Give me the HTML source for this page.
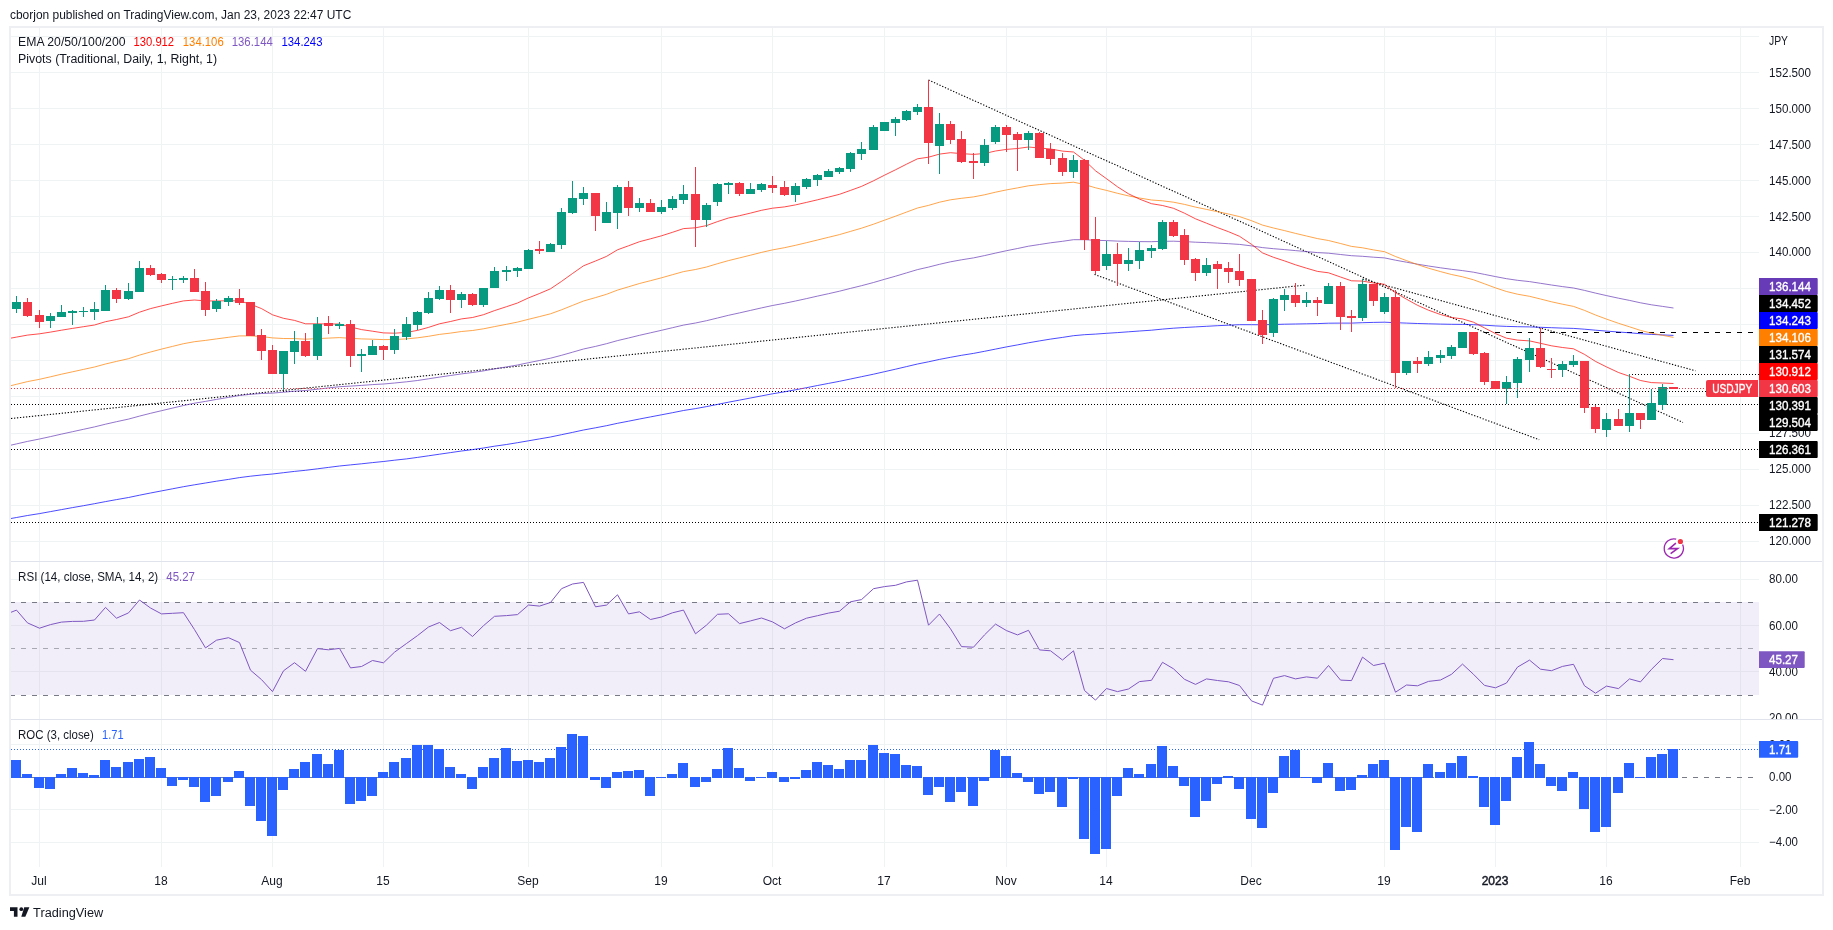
<!DOCTYPE html>
<html><head><meta charset="utf-8"><title>USDJPY chart</title><style>html,body{margin:0;padding:0;background:#fff;}#w{position:absolute;left:0;top:0;will-change:transform;}svg{display:block;}</style></head><body><div id="w">
<svg width="1833" height="930" viewBox="0 0 1833 930" font-family="'Liberation Sans', sans-serif">
<rect width="1833" height="930" fill="#fff"/>
<text x="10" y="19" font-size="12" fill="#131722" textLength="341.3" lengthAdjust="spacingAndGlyphs">cborjon published on TradingView.com, Jan 23, 2023 22:47 UTC</text>
<rect x="10" y="27" width="1813" height="868" fill="none" stroke="#edeff3" stroke-width="2"/>
<defs>
<clipPath id="cp"><rect x="11" y="28" width="1748" height="533"/></clipPath>
<clipPath id="cr"><rect x="11" y="562" width="1748" height="157"/></clipPath>
<clipPath id="co"><rect x="11" y="720" width="1748" height="147"/></clipPath>
<clipPath id="crs"><rect x="1759" y="562" width="63" height="157"/></clipPath>
<clipPath id="cps"><rect x="1759" y="28" width="63" height="533"/></clipPath>
</defs>
<rect x="39" y="28" width="1" height="839" fill="#f0f3f3"/>
<rect x="161" y="28" width="1" height="839" fill="#f0f3f3"/>
<rect x="272" y="28" width="1" height="839" fill="#f0f3f3"/>
<rect x="383" y="28" width="1" height="839" fill="#f0f3f3"/>
<rect x="528" y="28" width="1" height="839" fill="#f0f3f3"/>
<rect x="661" y="28" width="1" height="839" fill="#f0f3f3"/>
<rect x="772" y="28" width="1" height="839" fill="#f0f3f3"/>
<rect x="884" y="28" width="1" height="839" fill="#f0f3f3"/>
<rect x="1006" y="28" width="1" height="839" fill="#f0f3f3"/>
<rect x="1106" y="28" width="1" height="839" fill="#f0f3f3"/>
<rect x="1251" y="28" width="1" height="839" fill="#f0f3f3"/>
<rect x="1384" y="28" width="1" height="839" fill="#f0f3f3"/>
<rect x="1495" y="28" width="1" height="839" fill="#f0f3f3"/>
<rect x="1606" y="28" width="1" height="839" fill="#f0f3f3"/>
<rect x="1740" y="28" width="1" height="839" fill="#f0f3f3"/>
<rect x="11" y="36" width="1748" height="1" fill="#f0f3f3"/>
<rect x="11" y="72" width="1748" height="1" fill="#f0f3f3"/>
<rect x="11" y="108" width="1748" height="1" fill="#f0f3f3"/>
<rect x="11" y="144" width="1748" height="1" fill="#f0f3f3"/>
<rect x="11" y="180" width="1748" height="1" fill="#f0f3f3"/>
<rect x="11" y="216" width="1748" height="1" fill="#f0f3f3"/>
<rect x="11" y="252" width="1748" height="1" fill="#f0f3f3"/>
<rect x="11" y="288" width="1748" height="1" fill="#f0f3f3"/>
<rect x="11" y="324" width="1748" height="1" fill="#f0f3f3"/>
<rect x="11" y="360" width="1748" height="1" fill="#f0f3f3"/>
<rect x="11" y="396" width="1748" height="1" fill="#f0f3f3"/>
<rect x="11" y="433" width="1748" height="1" fill="#f0f3f3"/>
<rect x="11" y="469" width="1748" height="1" fill="#f0f3f3"/>
<rect x="11" y="505" width="1748" height="1" fill="#f0f3f3"/>
<rect x="11" y="541" width="1748" height="1" fill="#f0f3f3"/>
<rect x="11" y="579" width="1748" height="1" fill="#f0f3f3"/>
<rect x="11" y="625" width="1748" height="1" fill="#f0f3f3"/>
<rect x="11" y="671" width="1748" height="1" fill="#f0f3f3"/>
<rect x="11" y="744" width="1748" height="1" fill="#f0f3f3"/>
<rect x="11" y="809" width="1748" height="1" fill="#f0f3f3"/>
<rect x="11" y="842" width="1748" height="1" fill="#f0f3f3"/>
<rect x="11" y="561" width="1811" height="1" fill="#e0e3eb"/>
<rect x="11" y="719" width="1811" height="1" fill="#e0e3eb"/>
<g clip-path="url(#cp)">
<line x1="11" y1="404.5" x2="1759" y2="404.5" stroke="#000" stroke-width="1" stroke-dasharray="1 2" stroke-dashoffset="0"/>
<line x1="11" y1="449.5" x2="1759" y2="449.5" stroke="#000" stroke-width="1" stroke-dasharray="1 2" stroke-dashoffset="0"/>
<line x1="11" y1="522.5" x2="1759" y2="522.5" stroke="#000" stroke-width="1" stroke-dasharray="1 2" stroke-dashoffset="0"/>
<line x1="283" y1="391.5" x2="1759" y2="391.5" stroke="#000" stroke-width="1" stroke-dasharray="1 2" stroke-dashoffset="0"/>
<line x1="1629" y1="374.5" x2="1759" y2="374.5" stroke="#000" stroke-width="1" stroke-dasharray="1 2" stroke-dashoffset="0"/>
<line x1="1484" y1="332.5" x2="1759" y2="332.5" stroke="#000" stroke-width="1" stroke-dasharray="5 6"/>
<line x1="928.5" y1="80" x2="1683" y2="422.5" stroke="#000" stroke-width="1.1" stroke-dasharray="1.3 1.7"/>
<line x1="1362.5" y1="279" x2="1695.5" y2="370.8" stroke="#000" stroke-width="1.1" stroke-dasharray="1.3 1.7"/>
<line x1="1094.5" y1="274.4" x2="1539.2" y2="439.7" stroke="#000" stroke-width="1.1" stroke-dasharray="1.3 1.7"/>
<line x1="11" y1="418.5" x2="1306.2" y2="285" stroke="#000" stroke-width="1.1" stroke-dasharray="1.3 1.7"/>
<polyline points="5.5,519.5 16.5,517.5 27.5,515.5 39.5,513.6 50.5,511.6 61.5,509.6 72.5,507.6 83.5,505.7 94.5,503.7 105.5,501.6 116.5,499.6 128.5,497.5 139.5,495.2 150.5,493.0 161.5,490.9 172.5,488.8 183.5,486.7 194.5,484.8 205.5,483.0 216.5,481.2 228.5,479.4 239.5,477.6 250.5,476.2 261.5,475.0 272.5,474.0 283.5,472.7 294.5,471.4 305.5,470.3 317.5,468.8 328.5,467.4 339.5,466.0 350.5,464.9 361.5,463.8 372.5,462.6 383.5,461.5 394.5,460.2 406.5,458.9 417.5,457.4 428.5,455.8 439.5,454.2 450.5,452.6 461.5,451.0 472.5,449.6 483.5,448.0 494.5,446.2 506.5,444.5 517.5,442.7 528.5,440.8 539.5,438.9 550.5,437.0 561.5,434.7 572.5,432.4 583.5,430.0 595.5,427.8 606.5,425.7 617.5,423.3 628.5,421.2 639.5,419.0 650.5,416.9 661.5,414.8 672.5,412.7 683.5,410.5 695.5,408.6 706.5,406.6 717.5,404.4 728.5,402.2 739.5,400.1 750.5,398.0 761.5,395.9 772.5,393.8 784.5,391.8 795.5,389.8 806.5,387.7 817.5,385.5 828.5,383.4 839.5,381.3 850.5,379.0 861.5,376.7 873.5,374.2 884.5,371.7 895.5,369.2 906.5,366.6 917.5,364.0 928.5,361.8 939.5,359.4 950.5,357.3 961.5,355.3 973.5,353.4 984.5,351.3 995.5,349.1 1006.5,346.9 1017.5,344.9 1028.5,342.8 1039.5,340.9 1050.5,339.1 1062.5,337.4 1073.5,335.7 1084.5,334.7 1095.5,334.1 1106.5,333.3 1117.5,332.6 1128.5,331.8 1139.5,331.0 1151.5,330.2 1162.5,329.1 1173.5,328.2 1184.5,327.5 1195.5,326.9 1206.5,326.3 1217.5,325.7 1228.5,325.2 1239.5,324.7 1251.5,324.7 1262.5,324.8 1273.5,324.5 1284.5,324.2 1295.5,324.0 1306.5,323.8 1317.5,323.6 1328.5,323.2 1340.5,323.1 1351.5,323.1 1362.5,322.7 1373.5,322.4 1384.5,322.2 1395.5,322.7 1406.5,323.1 1417.5,323.5 1428.5,323.8 1440.5,324.1 1451.5,324.3 1462.5,324.4 1473.5,324.7 1484.5,325.2 1495.5,325.9 1506.5,326.4 1517.5,326.7 1529.5,326.9 1540.5,327.3 1551.5,327.7 1562.5,328.1 1573.5,328.4 1584.5,329.2 1595.5,330.2 1606.5,331.1 1618.5,332.0 1629.5,332.8 1640.5,333.7 1651.5,334.4 1662.5,334.9 1673.5,335.4" fill="none" stroke="#0000ff" stroke-width="1" stroke-linejoin="round" stroke-opacity="0.7"/>
<polyline points="5.5,446.4 16.5,443.9 27.5,441.4 39.5,439.0 50.5,436.6 61.5,434.1 72.5,431.7 83.5,429.3 94.5,426.9 105.5,424.2 116.5,421.7 128.5,419.1 139.5,416.1 150.5,413.3 161.5,410.7 172.5,408.1 183.5,405.5 194.5,403.2 205.5,401.4 216.5,399.4 228.5,397.4 239.5,395.5 250.5,394.3 261.5,393.5 272.5,393.1 283.5,392.2 294.5,391.2 305.5,390.5 317.5,389.2 328.5,387.9 339.5,386.7 350.5,386.1 361.5,385.4 372.5,384.6 383.5,384.0 394.5,383.0 406.5,381.8 417.5,380.5 428.5,378.8 439.5,377.1 450.5,375.5 461.5,373.9 472.5,372.5 483.5,370.9 494.5,368.9 506.5,366.9 517.5,365.0 528.5,362.7 539.5,360.5 550.5,358.2 561.5,355.3 572.5,352.2 583.5,349.0 595.5,346.4 606.5,343.7 617.5,340.6 628.5,338.0 639.5,335.3 650.5,332.8 661.5,330.3 672.5,327.7 683.5,325.1 695.5,323.0 706.5,320.7 717.5,318.0 728.5,315.3 739.5,312.9 750.5,310.4 761.5,307.9 772.5,305.5 784.5,303.3 795.5,301.0 806.5,298.6 817.5,296.1 828.5,293.7 839.5,291.2 850.5,288.4 861.5,285.7 873.5,282.5 884.5,279.3 895.5,276.2 906.5,272.9 917.5,269.6 928.5,267.1 939.5,264.3 950.5,261.8 961.5,259.8 973.5,257.9 984.5,255.6 995.5,253.1 1006.5,250.7 1017.5,248.5 1028.5,246.2 1039.5,244.5 1050.5,242.8 1062.5,241.3 1073.5,239.7 1084.5,239.7 1095.5,240.3 1106.5,240.6 1117.5,241.1 1128.5,241.4 1139.5,241.6 1151.5,241.7 1162.5,241.3 1173.5,241.2 1184.5,241.6 1195.5,242.2 1206.5,242.6 1217.5,243.1 1228.5,243.7 1239.5,244.4 1251.5,245.9 1262.5,247.6 1273.5,248.7 1284.5,249.6 1295.5,250.6 1306.5,251.6 1317.5,252.6 1328.5,253.2 1340.5,254.5 1351.5,255.7 1362.5,256.3 1373.5,257.2 1384.5,257.9 1395.5,260.2 1406.5,262.2 1417.5,264.2 1428.5,266.0 1440.5,267.8 1451.5,269.3 1462.5,270.6 1473.5,272.2 1484.5,274.4 1495.5,276.6 1506.5,278.7 1517.5,280.3 1529.5,281.6 1540.5,283.3 1551.5,285.0 1562.5,286.6 1573.5,288.0 1584.5,290.4 1595.5,293.1 1606.5,295.6 1618.5,298.2 1629.5,300.4 1640.5,302.8 1651.5,304.8 1662.5,306.4 1673.5,308.0" fill="none" stroke="#673ab7" stroke-width="1" stroke-linejoin="round" stroke-opacity="0.7"/>
<polyline points="5.5,387.0 16.5,384.3 27.5,381.6 39.5,379.3 50.5,376.8 61.5,374.2 72.5,371.8 83.5,369.4 94.5,367.0 105.5,364.0 116.5,361.4 128.5,358.7 139.5,355.1 150.5,352.0 161.5,349.1 172.5,346.4 183.5,343.7 194.5,341.7 205.5,340.4 216.5,338.9 228.5,337.3 239.5,335.9 250.5,335.9 261.5,336.5 272.5,337.9 283.5,338.5 294.5,338.6 305.5,339.2 317.5,338.6 328.5,338.1 339.5,337.6 350.5,338.3 361.5,338.9 372.5,339.2 383.5,339.6 394.5,339.5 406.5,338.9 417.5,337.8 428.5,336.3 439.5,334.4 450.5,333.1 461.5,331.5 472.5,330.5 483.5,328.8 494.5,326.6 506.5,324.3 517.5,322.1 528.5,319.3 539.5,316.6 550.5,313.8 561.5,309.8 572.5,305.4 583.5,301.0 595.5,297.6 606.5,294.3 617.5,290.1 628.5,286.8 639.5,283.5 650.5,280.7 661.5,277.8 672.5,274.7 683.5,271.6 695.5,269.5 706.5,267.0 717.5,263.7 728.5,260.6 739.5,257.9 750.5,255.2 761.5,252.4 772.5,249.9 784.5,247.7 795.5,245.3 806.5,242.7 817.5,240.0 828.5,237.3 839.5,234.6 850.5,231.4 861.5,228.2 873.5,224.2 884.5,220.2 895.5,216.2 906.5,212.1 917.5,208.0 928.5,205.4 939.5,202.2 950.5,199.8 961.5,198.3 973.5,196.9 984.5,194.8 995.5,192.2 1006.5,189.9 1017.5,187.9 1028.5,185.8 1039.5,184.6 1050.5,183.6 1062.5,183.1 1073.5,182.2 1084.5,184.5 1095.5,187.8 1106.5,190.4 1117.5,193.3 1128.5,195.9 1139.5,198.0 1151.5,200.0 1162.5,200.8 1173.5,202.2 1184.5,204.4 1195.5,207.1 1206.5,209.4 1217.5,211.7 1228.5,214.0 1239.5,216.6 1251.5,220.7 1262.5,225.1 1273.5,228.0 1284.5,230.6 1295.5,233.4 1306.5,236.0 1317.5,238.6 1328.5,240.5 1340.5,243.5 1351.5,246.4 1362.5,247.8 1373.5,249.9 1384.5,251.7 1395.5,256.5 1406.5,260.6 1417.5,264.6 1428.5,268.2 1440.5,271.6 1451.5,274.5 1462.5,276.8 1473.5,279.8 1484.5,283.8 1495.5,287.9 1506.5,291.5 1517.5,294.2 1529.5,296.3 1540.5,299.0 1551.5,301.8 1562.5,304.2 1573.5,306.4 1584.5,310.4 1595.5,315.0 1606.5,319.1 1618.5,323.3 1629.5,326.8 1640.5,330.4 1651.5,333.2 1662.5,335.3 1673.5,337.4" fill="none" stroke="#ff7f00" stroke-width="1" stroke-linejoin="round" stroke-opacity="0.7"/>
<polyline points="5.5,339.1 16.5,337.1 27.5,335.1 39.5,333.8 50.5,332.1 61.5,330.2 72.5,328.4 83.5,326.7 94.5,325.0 105.5,321.7 116.5,319.5 128.5,316.8 139.5,312.2 150.5,308.6 161.5,305.9 172.5,303.3 183.5,300.9 194.5,300.0 205.5,300.9 216.5,301.0 228.5,300.7 239.5,300.9 250.5,304.2 261.5,308.6 272.5,314.8 283.5,318.3 294.5,320.4 305.5,323.8 317.5,323.8 328.5,324.0 339.5,324.0 350.5,327.0 361.5,329.6 372.5,331.2 383.5,332.9 394.5,333.2 406.5,332.4 417.5,330.4 428.5,327.4 439.5,323.8 450.5,321.5 461.5,318.9 472.5,317.5 483.5,314.7 494.5,310.6 506.5,306.7 517.5,303.0 528.5,297.9 539.5,293.5 550.5,288.8 561.5,281.4 572.5,273.5 583.5,265.8 595.5,261.0 606.5,256.4 617.5,249.8 628.5,245.8 639.5,241.7 650.5,238.8 661.5,235.8 672.5,232.3 683.5,228.6 695.5,227.8 706.5,225.6 717.5,221.6 728.5,218.0 739.5,215.7 750.5,213.1 761.5,210.3 772.5,208.2 784.5,206.9 795.5,204.9 806.5,202.4 817.5,199.8 828.5,197.1 839.5,194.3 850.5,190.4 861.5,186.4 873.5,180.8 884.5,175.2 895.5,169.8 906.5,164.2 917.5,158.8 928.5,157.2 939.5,154.1 950.5,152.7 961.5,153.6 973.5,154.4 984.5,153.5 995.5,151.0 1006.5,149.4 1017.5,148.5 1028.5,147.0 1039.5,148.0 1050.5,149.0 1062.5,151.1 1073.5,152.0 1084.5,160.3 1095.5,170.8 1106.5,178.7 1117.5,186.8 1128.5,193.8 1139.5,199.1 1151.5,203.7 1162.5,205.5 1173.5,208.3 1184.5,213.2 1195.5,218.8 1206.5,223.2 1217.5,227.6 1228.5,231.7 1239.5,236.3 1251.5,244.3 1262.5,252.9 1273.5,257.3 1284.5,260.9 1295.5,264.8 1306.5,268.2 1317.5,271.4 1328.5,272.8 1340.5,277.0 1351.5,280.8 1362.5,281.1 1373.5,283.0 1384.5,284.3 1395.5,292.7 1406.5,299.2 1417.5,305.3 1428.5,310.2 1440.5,314.5 1451.5,317.5 1462.5,318.9 1473.5,322.2 1484.5,327.9 1495.5,333.6 1506.5,338.2 1517.5,340.1 1529.5,340.9 1540.5,343.3 1551.5,345.8 1562.5,347.5 1573.5,348.8 1584.5,354.4 1595.5,361.4 1606.5,366.9 1618.5,372.5 1629.5,376.3 1640.5,380.5 1651.5,382.6 1662.5,383.0 1673.5,383.5" fill="none" stroke="#ff0000" stroke-width="1" stroke-linejoin="round" stroke-opacity="0.7"/>
<rect x="16" y="296" width="1" height="6" fill="#089981"/>
<rect x="16" y="309" width="1" height="4" fill="#089981"/>
<rect x="12" y="302" width="9" height="7" fill="#089981"/>
<rect x="27" y="298" width="1" height="4" fill="#f23645"/>
<rect x="27" y="316" width="1" height="1" fill="#f23645"/>
<rect x="23" y="302" width="9" height="14" fill="#f23645"/>
<rect x="39" y="310" width="1" height="5" fill="#f23645"/>
<rect x="39" y="322" width="1" height="6" fill="#f23645"/>
<rect x="35" y="315" width="9" height="7" fill="#f23645"/>
<rect x="50" y="313" width="1" height="3" fill="#089981"/>
<rect x="50" y="321" width="1" height="7" fill="#089981"/>
<rect x="46" y="316" width="9" height="5" fill="#089981"/>
<rect x="61" y="305" width="1" height="7" fill="#089981"/>
<rect x="57" y="312" width="9" height="5" fill="#089981"/>
<rect x="72" y="310" width="1" height="1" fill="#089981"/>
<rect x="72" y="313" width="1" height="12" fill="#089981"/>
<rect x="68" y="311" width="9" height="2" fill="#089981"/>
<rect x="83" y="307" width="1" height="4" fill="#089981"/>
<rect x="83" y="312" width="1" height="5" fill="#089981"/>
<rect x="79" y="311" width="9" height="1" fill="#089981"/>
<rect x="94" y="302" width="1" height="7" fill="#089981"/>
<rect x="94" y="312" width="1" height="8" fill="#089981"/>
<rect x="90" y="309" width="9" height="3" fill="#089981"/>
<rect x="105" y="285" width="1" height="5" fill="#089981"/>
<rect x="101" y="290" width="9" height="21" fill="#089981"/>
<rect x="116" y="288" width="1" height="2" fill="#f23645"/>
<rect x="116" y="299" width="1" height="4" fill="#f23645"/>
<rect x="112" y="290" width="9" height="9" fill="#f23645"/>
<rect x="128" y="283" width="1" height="8" fill="#089981"/>
<rect x="128" y="299" width="1" height="1" fill="#089981"/>
<rect x="124" y="291" width="9" height="8" fill="#089981"/>
<rect x="139" y="261" width="1" height="7" fill="#089981"/>
<rect x="135" y="268" width="9" height="24" fill="#089981"/>
<rect x="150" y="265" width="1" height="3" fill="#f23645"/>
<rect x="150" y="275" width="1" height="1" fill="#f23645"/>
<rect x="146" y="268" width="9" height="7" fill="#f23645"/>
<rect x="161" y="273" width="1" height="1" fill="#f23645"/>
<rect x="161" y="280" width="1" height="3" fill="#f23645"/>
<rect x="157" y="274" width="9" height="6" fill="#f23645"/>
<rect x="172" y="276" width="1" height="3" fill="#089981"/>
<rect x="172" y="280" width="1" height="10" fill="#089981"/>
<rect x="168" y="279" width="9" height="1" fill="#089981"/>
<rect x="183" y="276" width="1" height="2" fill="#089981"/>
<rect x="183" y="280" width="1" height="3" fill="#089981"/>
<rect x="179" y="278" width="9" height="2" fill="#089981"/>
<rect x="194" y="269" width="1" height="9" fill="#f23645"/>
<rect x="190" y="278" width="9" height="14" fill="#f23645"/>
<rect x="205" y="282" width="1" height="9" fill="#f23645"/>
<rect x="205" y="310" width="1" height="6" fill="#f23645"/>
<rect x="201" y="291" width="9" height="19" fill="#f23645"/>
<rect x="216" y="299" width="1" height="2" fill="#089981"/>
<rect x="216" y="309" width="1" height="3" fill="#089981"/>
<rect x="212" y="301" width="9" height="8" fill="#089981"/>
<rect x="228" y="296" width="1" height="2" fill="#089981"/>
<rect x="228" y="302" width="1" height="4" fill="#089981"/>
<rect x="224" y="298" width="9" height="4" fill="#089981"/>
<rect x="239" y="289" width="1" height="9" fill="#f23645"/>
<rect x="239" y="303" width="1" height="2" fill="#f23645"/>
<rect x="235" y="298" width="9" height="5" fill="#f23645"/>
<rect x="246" y="302" width="9" height="34" fill="#f23645"/>
<rect x="261" y="329" width="1" height="6" fill="#f23645"/>
<rect x="261" y="351" width="1" height="9" fill="#f23645"/>
<rect x="257" y="335" width="9" height="16" fill="#f23645"/>
<rect x="272" y="345" width="1" height="5" fill="#f23645"/>
<rect x="268" y="350" width="9" height="24" fill="#f23645"/>
<rect x="283" y="374" width="1" height="16" fill="#089981"/>
<rect x="279" y="351" width="9" height="23" fill="#089981"/>
<rect x="294" y="331" width="1" height="10" fill="#089981"/>
<rect x="294" y="352" width="1" height="12" fill="#089981"/>
<rect x="290" y="341" width="9" height="11" fill="#089981"/>
<rect x="305" y="333" width="1" height="8" fill="#f23645"/>
<rect x="305" y="356" width="1" height="1" fill="#f23645"/>
<rect x="301" y="341" width="9" height="15" fill="#f23645"/>
<rect x="317" y="317" width="1" height="7" fill="#089981"/>
<rect x="317" y="356" width="1" height="4" fill="#089981"/>
<rect x="313" y="324" width="9" height="32" fill="#089981"/>
<rect x="328" y="316" width="1" height="7" fill="#f23645"/>
<rect x="328" y="326" width="1" height="8" fill="#f23645"/>
<rect x="324" y="323" width="9" height="3" fill="#f23645"/>
<rect x="339" y="322" width="1" height="2" fill="#089981"/>
<rect x="339" y="326" width="1" height="3" fill="#089981"/>
<rect x="335" y="324" width="9" height="2" fill="#089981"/>
<rect x="350" y="320" width="1" height="4" fill="#f23645"/>
<rect x="350" y="356" width="1" height="11" fill="#f23645"/>
<rect x="346" y="324" width="9" height="32" fill="#f23645"/>
<rect x="361" y="349" width="1" height="5" fill="#089981"/>
<rect x="361" y="356" width="1" height="16" fill="#089981"/>
<rect x="357" y="354" width="9" height="2" fill="#089981"/>
<rect x="372" y="340" width="1" height="6" fill="#089981"/>
<rect x="368" y="346" width="9" height="9" fill="#089981"/>
<rect x="383" y="345" width="1" height="1" fill="#f23645"/>
<rect x="383" y="350" width="1" height="10" fill="#f23645"/>
<rect x="379" y="346" width="9" height="4" fill="#f23645"/>
<rect x="394" y="329" width="1" height="7" fill="#089981"/>
<rect x="394" y="350" width="1" height="4" fill="#089981"/>
<rect x="390" y="336" width="9" height="14" fill="#089981"/>
<rect x="406" y="317" width="1" height="7" fill="#089981"/>
<rect x="406" y="337" width="1" height="3" fill="#089981"/>
<rect x="402" y="324" width="9" height="13" fill="#089981"/>
<rect x="417" y="311" width="1" height="1" fill="#089981"/>
<rect x="417" y="325" width="1" height="5" fill="#089981"/>
<rect x="413" y="312" width="9" height="13" fill="#089981"/>
<rect x="428" y="292" width="1" height="6" fill="#089981"/>
<rect x="428" y="313" width="1" height="1" fill="#089981"/>
<rect x="424" y="298" width="9" height="15" fill="#089981"/>
<rect x="439" y="286" width="1" height="4" fill="#089981"/>
<rect x="439" y="299" width="1" height="1" fill="#089981"/>
<rect x="435" y="290" width="9" height="9" fill="#089981"/>
<rect x="450" y="285" width="1" height="5" fill="#f23645"/>
<rect x="450" y="300" width="1" height="13" fill="#f23645"/>
<rect x="446" y="290" width="9" height="10" fill="#f23645"/>
<rect x="461" y="292" width="1" height="2" fill="#089981"/>
<rect x="461" y="300" width="1" height="8" fill="#089981"/>
<rect x="457" y="294" width="9" height="6" fill="#089981"/>
<rect x="472" y="293" width="1" height="1" fill="#f23645"/>
<rect x="472" y="305" width="1" height="1" fill="#f23645"/>
<rect x="468" y="294" width="9" height="11" fill="#f23645"/>
<rect x="483" y="305" width="1" height="2" fill="#089981"/>
<rect x="479" y="288" width="9" height="17" fill="#089981"/>
<rect x="494" y="267" width="1" height="4" fill="#089981"/>
<rect x="490" y="271" width="9" height="17" fill="#089981"/>
<rect x="506" y="266" width="1" height="4" fill="#089981"/>
<rect x="506" y="272" width="1" height="9" fill="#089981"/>
<rect x="502" y="270" width="9" height="2" fill="#089981"/>
<rect x="517" y="267" width="1" height="1" fill="#089981"/>
<rect x="517" y="271" width="1" height="6" fill="#089981"/>
<rect x="513" y="268" width="9" height="3" fill="#089981"/>
<rect x="528" y="249" width="1" height="1" fill="#089981"/>
<rect x="524" y="250" width="9" height="19" fill="#089981"/>
<rect x="539" y="241" width="1" height="8" fill="#f23645"/>
<rect x="539" y="251" width="1" height="3" fill="#f23645"/>
<rect x="535" y="249" width="9" height="2" fill="#f23645"/>
<rect x="550" y="243" width="1" height="1" fill="#089981"/>
<rect x="546" y="244" width="9" height="8" fill="#089981"/>
<rect x="561" y="208" width="1" height="4" fill="#089981"/>
<rect x="561" y="245" width="1" height="4" fill="#089981"/>
<rect x="557" y="212" width="9" height="33" fill="#089981"/>
<rect x="572" y="181" width="1" height="17" fill="#089981"/>
<rect x="572" y="213" width="1" height="1" fill="#089981"/>
<rect x="568" y="198" width="9" height="15" fill="#089981"/>
<rect x="583" y="187" width="1" height="6" fill="#089981"/>
<rect x="583" y="199" width="1" height="6" fill="#089981"/>
<rect x="579" y="193" width="9" height="6" fill="#089981"/>
<rect x="595" y="216" width="1" height="15" fill="#f23645"/>
<rect x="591" y="193" width="9" height="23" fill="#f23645"/>
<rect x="606" y="202" width="1" height="10" fill="#089981"/>
<rect x="602" y="212" width="9" height="11" fill="#089981"/>
<rect x="617" y="185" width="1" height="2" fill="#089981"/>
<rect x="617" y="213" width="1" height="16" fill="#089981"/>
<rect x="613" y="187" width="9" height="26" fill="#089981"/>
<rect x="628" y="181" width="1" height="6" fill="#f23645"/>
<rect x="628" y="208" width="1" height="8" fill="#f23645"/>
<rect x="624" y="187" width="9" height="21" fill="#f23645"/>
<rect x="639" y="198" width="1" height="5" fill="#089981"/>
<rect x="639" y="208" width="1" height="4" fill="#089981"/>
<rect x="635" y="203" width="9" height="5" fill="#089981"/>
<rect x="650" y="199" width="1" height="4" fill="#f23645"/>
<rect x="646" y="203" width="9" height="9" fill="#f23645"/>
<rect x="661" y="200" width="1" height="7" fill="#089981"/>
<rect x="661" y="212" width="1" height="2" fill="#089981"/>
<rect x="657" y="207" width="9" height="5" fill="#089981"/>
<rect x="672" y="196" width="1" height="3" fill="#089981"/>
<rect x="672" y="208" width="1" height="2" fill="#089981"/>
<rect x="668" y="199" width="9" height="9" fill="#089981"/>
<rect x="683" y="185" width="1" height="9" fill="#089981"/>
<rect x="683" y="200" width="1" height="4" fill="#089981"/>
<rect x="679" y="194" width="9" height="6" fill="#089981"/>
<rect x="695" y="167" width="1" height="27" fill="#f23645"/>
<rect x="695" y="220" width="1" height="27" fill="#f23645"/>
<rect x="691" y="194" width="9" height="26" fill="#f23645"/>
<rect x="706" y="203" width="1" height="2" fill="#089981"/>
<rect x="706" y="220" width="1" height="7" fill="#089981"/>
<rect x="702" y="205" width="9" height="15" fill="#089981"/>
<rect x="717" y="183" width="1" height="1" fill="#089981"/>
<rect x="717" y="202" width="1" height="4" fill="#089981"/>
<rect x="713" y="184" width="9" height="18" fill="#089981"/>
<rect x="728" y="182" width="1" height="1" fill="#089981"/>
<rect x="728" y="185" width="1" height="9" fill="#089981"/>
<rect x="724" y="183" width="9" height="2" fill="#089981"/>
<rect x="739" y="182" width="1" height="1" fill="#f23645"/>
<rect x="739" y="194" width="1" height="2" fill="#f23645"/>
<rect x="735" y="183" width="9" height="11" fill="#f23645"/>
<rect x="750" y="183" width="1" height="6" fill="#089981"/>
<rect x="746" y="189" width="9" height="5" fill="#089981"/>
<rect x="761" y="183" width="1" height="1" fill="#089981"/>
<rect x="761" y="190" width="1" height="2" fill="#089981"/>
<rect x="757" y="184" width="9" height="6" fill="#089981"/>
<rect x="772" y="176" width="1" height="9" fill="#f23645"/>
<rect x="772" y="188" width="1" height="5" fill="#f23645"/>
<rect x="768" y="185" width="9" height="3" fill="#f23645"/>
<rect x="784" y="181" width="1" height="6" fill="#f23645"/>
<rect x="784" y="195" width="1" height="1" fill="#f23645"/>
<rect x="780" y="187" width="9" height="8" fill="#f23645"/>
<rect x="795" y="183" width="1" height="3" fill="#089981"/>
<rect x="795" y="195" width="1" height="7" fill="#089981"/>
<rect x="791" y="186" width="9" height="9" fill="#089981"/>
<rect x="806" y="178" width="1" height="1" fill="#089981"/>
<rect x="806" y="187" width="1" height="2" fill="#089981"/>
<rect x="802" y="179" width="9" height="8" fill="#089981"/>
<rect x="817" y="174" width="1" height="1" fill="#089981"/>
<rect x="817" y="180" width="1" height="6" fill="#089981"/>
<rect x="813" y="175" width="9" height="5" fill="#089981"/>
<rect x="828" y="169" width="1" height="2" fill="#089981"/>
<rect x="824" y="171" width="9" height="6" fill="#089981"/>
<rect x="839" y="167" width="1" height="1" fill="#089981"/>
<rect x="839" y="172" width="1" height="2" fill="#089981"/>
<rect x="835" y="168" width="9" height="4" fill="#089981"/>
<rect x="850" y="152" width="1" height="1" fill="#089981"/>
<rect x="850" y="169" width="1" height="3" fill="#089981"/>
<rect x="846" y="153" width="9" height="16" fill="#089981"/>
<rect x="861" y="142" width="1" height="7" fill="#089981"/>
<rect x="861" y="154" width="1" height="6" fill="#089981"/>
<rect x="857" y="149" width="9" height="5" fill="#089981"/>
<rect x="873" y="125" width="1" height="2" fill="#089981"/>
<rect x="869" y="127" width="9" height="23" fill="#089981"/>
<rect x="880" y="122" width="9" height="9" fill="#089981"/>
<rect x="895" y="117" width="1" height="2" fill="#089981"/>
<rect x="895" y="123" width="1" height="13" fill="#089981"/>
<rect x="891" y="119" width="9" height="4" fill="#089981"/>
<rect x="906" y="110" width="1" height="1" fill="#089981"/>
<rect x="906" y="120" width="1" height="1" fill="#089981"/>
<rect x="902" y="111" width="9" height="9" fill="#089981"/>
<rect x="917" y="104" width="1" height="3" fill="#089981"/>
<rect x="917" y="112" width="1" height="3" fill="#089981"/>
<rect x="913" y="107" width="9" height="5" fill="#089981"/>
<rect x="928" y="80" width="1" height="27" fill="#f23645"/>
<rect x="928" y="143" width="1" height="21" fill="#f23645"/>
<rect x="924" y="107" width="9" height="36" fill="#f23645"/>
<rect x="939" y="113" width="1" height="11" fill="#089981"/>
<rect x="939" y="146" width="1" height="28" fill="#089981"/>
<rect x="935" y="124" width="9" height="22" fill="#089981"/>
<rect x="950" y="121" width="1" height="3" fill="#f23645"/>
<rect x="950" y="140" width="1" height="4" fill="#f23645"/>
<rect x="946" y="124" width="9" height="16" fill="#f23645"/>
<rect x="961" y="131" width="1" height="8" fill="#f23645"/>
<rect x="961" y="162" width="1" height="1" fill="#f23645"/>
<rect x="957" y="139" width="9" height="23" fill="#f23645"/>
<rect x="973" y="153" width="1" height="8" fill="#f23645"/>
<rect x="973" y="163" width="1" height="16" fill="#f23645"/>
<rect x="969" y="161" width="9" height="2" fill="#f23645"/>
<rect x="984" y="139" width="1" height="6" fill="#089981"/>
<rect x="984" y="163" width="1" height="3" fill="#089981"/>
<rect x="980" y="145" width="9" height="18" fill="#089981"/>
<rect x="995" y="125" width="1" height="2" fill="#089981"/>
<rect x="995" y="142" width="1" height="2" fill="#089981"/>
<rect x="991" y="127" width="9" height="15" fill="#089981"/>
<rect x="1006" y="125" width="1" height="2" fill="#f23645"/>
<rect x="1006" y="135" width="1" height="17" fill="#f23645"/>
<rect x="1002" y="127" width="9" height="8" fill="#f23645"/>
<rect x="1017" y="132" width="1" height="2" fill="#f23645"/>
<rect x="1017" y="140" width="1" height="31" fill="#f23645"/>
<rect x="1013" y="134" width="9" height="6" fill="#f23645"/>
<rect x="1028" y="131" width="1" height="2" fill="#089981"/>
<rect x="1028" y="140" width="1" height="10" fill="#089981"/>
<rect x="1024" y="133" width="9" height="7" fill="#089981"/>
<rect x="1039" y="132" width="1" height="1" fill="#f23645"/>
<rect x="1035" y="133" width="9" height="25" fill="#f23645"/>
<rect x="1050" y="143" width="1" height="6" fill="#f23645"/>
<rect x="1050" y="159" width="1" height="6" fill="#f23645"/>
<rect x="1046" y="149" width="9" height="10" fill="#f23645"/>
<rect x="1062" y="153" width="1" height="5" fill="#f23645"/>
<rect x="1062" y="172" width="1" height="4" fill="#f23645"/>
<rect x="1058" y="158" width="9" height="14" fill="#f23645"/>
<rect x="1073" y="155" width="1" height="5" fill="#089981"/>
<rect x="1073" y="172" width="1" height="6" fill="#089981"/>
<rect x="1069" y="160" width="9" height="12" fill="#089981"/>
<rect x="1084" y="159" width="1" height="1" fill="#f23645"/>
<rect x="1084" y="240" width="1" height="10" fill="#f23645"/>
<rect x="1080" y="160" width="9" height="80" fill="#f23645"/>
<rect x="1095" y="217" width="1" height="22" fill="#f23645"/>
<rect x="1095" y="271" width="1" height="3" fill="#f23645"/>
<rect x="1091" y="239" width="9" height="32" fill="#f23645"/>
<rect x="1106" y="241" width="1" height="13" fill="#089981"/>
<rect x="1106" y="266" width="1" height="4" fill="#089981"/>
<rect x="1102" y="254" width="9" height="12" fill="#089981"/>
<rect x="1117" y="243" width="1" height="11" fill="#f23645"/>
<rect x="1117" y="264" width="1" height="22" fill="#f23645"/>
<rect x="1113" y="254" width="9" height="10" fill="#f23645"/>
<rect x="1128" y="248" width="1" height="12" fill="#089981"/>
<rect x="1128" y="264" width="1" height="7" fill="#089981"/>
<rect x="1124" y="260" width="9" height="4" fill="#089981"/>
<rect x="1139" y="242" width="1" height="8" fill="#089981"/>
<rect x="1139" y="261" width="1" height="8" fill="#089981"/>
<rect x="1135" y="250" width="9" height="11" fill="#089981"/>
<rect x="1151" y="245" width="1" height="3" fill="#089981"/>
<rect x="1151" y="251" width="1" height="7" fill="#089981"/>
<rect x="1147" y="248" width="9" height="3" fill="#089981"/>
<rect x="1162" y="220" width="1" height="2" fill="#089981"/>
<rect x="1162" y="249" width="1" height="1" fill="#089981"/>
<rect x="1158" y="222" width="9" height="27" fill="#089981"/>
<rect x="1173" y="220" width="1" height="2" fill="#f23645"/>
<rect x="1173" y="236" width="1" height="1" fill="#f23645"/>
<rect x="1169" y="222" width="9" height="14" fill="#f23645"/>
<rect x="1184" y="229" width="1" height="6" fill="#f23645"/>
<rect x="1184" y="260" width="1" height="5" fill="#f23645"/>
<rect x="1180" y="235" width="9" height="25" fill="#f23645"/>
<rect x="1195" y="258" width="1" height="1" fill="#f23645"/>
<rect x="1195" y="273" width="1" height="8" fill="#f23645"/>
<rect x="1191" y="259" width="9" height="14" fill="#f23645"/>
<rect x="1206" y="258" width="1" height="7" fill="#089981"/>
<rect x="1206" y="273" width="1" height="3" fill="#089981"/>
<rect x="1202" y="265" width="9" height="8" fill="#089981"/>
<rect x="1217" y="261" width="1" height="3" fill="#f23645"/>
<rect x="1217" y="269" width="1" height="20" fill="#f23645"/>
<rect x="1213" y="264" width="9" height="5" fill="#f23645"/>
<rect x="1228" y="262" width="1" height="6" fill="#f23645"/>
<rect x="1228" y="272" width="1" height="11" fill="#f23645"/>
<rect x="1224" y="268" width="9" height="4" fill="#f23645"/>
<rect x="1239" y="254" width="1" height="17" fill="#f23645"/>
<rect x="1239" y="280" width="1" height="6" fill="#f23645"/>
<rect x="1235" y="271" width="9" height="9" fill="#f23645"/>
<rect x="1247" y="279" width="9" height="42" fill="#f23645"/>
<rect x="1262" y="310" width="1" height="10" fill="#f23645"/>
<rect x="1262" y="335" width="1" height="9" fill="#f23645"/>
<rect x="1258" y="320" width="9" height="15" fill="#f23645"/>
<rect x="1273" y="298" width="1" height="1" fill="#089981"/>
<rect x="1273" y="333" width="1" height="4" fill="#089981"/>
<rect x="1269" y="299" width="9" height="34" fill="#089981"/>
<rect x="1284" y="289" width="1" height="6" fill="#089981"/>
<rect x="1284" y="300" width="1" height="11" fill="#089981"/>
<rect x="1280" y="295" width="9" height="5" fill="#089981"/>
<rect x="1295" y="283" width="1" height="12" fill="#f23645"/>
<rect x="1295" y="303" width="1" height="4" fill="#f23645"/>
<rect x="1291" y="295" width="9" height="8" fill="#f23645"/>
<rect x="1306" y="292" width="1" height="8" fill="#089981"/>
<rect x="1306" y="303" width="1" height="4" fill="#089981"/>
<rect x="1302" y="300" width="9" height="3" fill="#089981"/>
<rect x="1317" y="297" width="1" height="3" fill="#f23645"/>
<rect x="1317" y="303" width="1" height="13" fill="#f23645"/>
<rect x="1313" y="300" width="9" height="3" fill="#f23645"/>
<rect x="1328" y="283" width="1" height="3" fill="#089981"/>
<rect x="1324" y="286" width="9" height="18" fill="#089981"/>
<rect x="1340" y="282" width="1" height="4" fill="#f23645"/>
<rect x="1340" y="317" width="1" height="13" fill="#f23645"/>
<rect x="1336" y="286" width="9" height="31" fill="#f23645"/>
<rect x="1351" y="310" width="1" height="6" fill="#f23645"/>
<rect x="1351" y="318" width="1" height="14" fill="#f23645"/>
<rect x="1347" y="316" width="9" height="2" fill="#f23645"/>
<rect x="1362" y="279" width="1" height="5" fill="#089981"/>
<rect x="1362" y="318" width="1" height="3" fill="#089981"/>
<rect x="1358" y="284" width="9" height="34" fill="#089981"/>
<rect x="1373" y="301" width="1" height="5" fill="#f23645"/>
<rect x="1369" y="284" width="9" height="17" fill="#f23645"/>
<rect x="1384" y="293" width="1" height="4" fill="#089981"/>
<rect x="1384" y="312" width="1" height="2" fill="#089981"/>
<rect x="1380" y="297" width="9" height="15" fill="#089981"/>
<rect x="1395" y="290" width="1" height="7" fill="#f23645"/>
<rect x="1395" y="373" width="1" height="15" fill="#f23645"/>
<rect x="1391" y="297" width="9" height="76" fill="#f23645"/>
<rect x="1406" y="373" width="1" height="2" fill="#089981"/>
<rect x="1402" y="361" width="9" height="12" fill="#089981"/>
<rect x="1417" y="357" width="1" height="4" fill="#f23645"/>
<rect x="1417" y="364" width="1" height="9" fill="#f23645"/>
<rect x="1413" y="361" width="9" height="3" fill="#f23645"/>
<rect x="1428" y="351" width="1" height="6" fill="#089981"/>
<rect x="1428" y="364" width="1" height="2" fill="#089981"/>
<rect x="1424" y="357" width="9" height="7" fill="#089981"/>
<rect x="1440" y="350" width="1" height="5" fill="#089981"/>
<rect x="1440" y="358" width="1" height="5" fill="#089981"/>
<rect x="1436" y="355" width="9" height="3" fill="#089981"/>
<rect x="1451" y="345" width="1" height="2" fill="#089981"/>
<rect x="1451" y="356" width="1" height="3" fill="#089981"/>
<rect x="1447" y="347" width="9" height="9" fill="#089981"/>
<rect x="1458" y="332" width="9" height="16" fill="#089981"/>
<rect x="1473" y="354" width="1" height="1" fill="#f23645"/>
<rect x="1469" y="332" width="9" height="22" fill="#f23645"/>
<rect x="1484" y="352" width="1" height="1" fill="#f23645"/>
<rect x="1484" y="382" width="1" height="3" fill="#f23645"/>
<rect x="1480" y="353" width="9" height="29" fill="#f23645"/>
<rect x="1491" y="381" width="9" height="8" fill="#f23645"/>
<rect x="1506" y="376" width="1" height="6" fill="#089981"/>
<rect x="1506" y="389" width="1" height="15" fill="#089981"/>
<rect x="1502" y="382" width="9" height="7" fill="#089981"/>
<rect x="1517" y="357" width="1" height="2" fill="#089981"/>
<rect x="1517" y="383" width="1" height="15" fill="#089981"/>
<rect x="1513" y="359" width="9" height="24" fill="#089981"/>
<rect x="1529" y="338" width="1" height="10" fill="#089981"/>
<rect x="1529" y="360" width="1" height="12" fill="#089981"/>
<rect x="1525" y="348" width="9" height="12" fill="#089981"/>
<rect x="1540" y="328" width="1" height="20" fill="#f23645"/>
<rect x="1540" y="367" width="1" height="1" fill="#f23645"/>
<rect x="1536" y="348" width="9" height="19" fill="#f23645"/>
<rect x="1551" y="358" width="1" height="11" fill="#f23645"/>
<rect x="1551" y="370" width="1" height="8" fill="#f23645"/>
<rect x="1547" y="369" width="9" height="1" fill="#f23645"/>
<rect x="1562" y="361" width="1" height="3" fill="#089981"/>
<rect x="1562" y="370" width="1" height="7" fill="#089981"/>
<rect x="1558" y="364" width="9" height="6" fill="#089981"/>
<rect x="1573" y="355" width="1" height="6" fill="#089981"/>
<rect x="1573" y="365" width="1" height="2" fill="#089981"/>
<rect x="1569" y="361" width="9" height="4" fill="#089981"/>
<rect x="1584" y="408" width="1" height="5" fill="#f23645"/>
<rect x="1580" y="361" width="9" height="47" fill="#f23645"/>
<rect x="1595" y="405" width="1" height="2" fill="#f23645"/>
<rect x="1595" y="429" width="1" height="4" fill="#f23645"/>
<rect x="1591" y="407" width="9" height="22" fill="#f23645"/>
<rect x="1606" y="413" width="1" height="6" fill="#089981"/>
<rect x="1606" y="430" width="1" height="7" fill="#089981"/>
<rect x="1602" y="419" width="9" height="11" fill="#089981"/>
<rect x="1618" y="409" width="1" height="10" fill="#f23645"/>
<rect x="1614" y="419" width="9" height="7" fill="#f23645"/>
<rect x="1629" y="374" width="1" height="39" fill="#089981"/>
<rect x="1629" y="426" width="1" height="6" fill="#089981"/>
<rect x="1625" y="413" width="9" height="13" fill="#089981"/>
<rect x="1640" y="420" width="1" height="9" fill="#f23645"/>
<rect x="1636" y="413" width="9" height="7" fill="#f23645"/>
<rect x="1651" y="389" width="1" height="14" fill="#089981"/>
<rect x="1647" y="403" width="9" height="17" fill="#089981"/>
<rect x="1662" y="384" width="1" height="3" fill="#089981"/>
<rect x="1662" y="405" width="1" height="5" fill="#089981"/>
<rect x="1658" y="387" width="9" height="18" fill="#089981"/>
<rect x="1669" y="387" width="9" height="2" fill="#f23645"/>
<line x1="11" y1="388.5" x2="1759" y2="388.5" stroke="#f23645" stroke-width="1" stroke-dasharray="1 2" stroke-dashoffset="0"/>
</g>
<circle cx="1673.4" cy="548.4" r="10.8" fill="#fff"/>
<circle cx="1680.4" cy="541.5" r="3.8" fill="#fff"/>
<path d="M 1682.6 544.6 A 9.6 9.6 0 1 1 1676.2 539.2" fill="none" stroke="#9c27b0" stroke-width="1.3"/>
<path d="M1675.9 543.2 L1669.3 548.6 L1677.6 548.6 L1670.6 553.6" fill="none" stroke="#9c27b0" stroke-width="1.6"/>
<circle cx="1680.4" cy="541.5" r="2.6" fill="#f23645"/>
<g clip-path="url(#cr)">
<rect x="11" y="602" width="1748" height="93" fill="#7e57c2" fill-opacity="0.1"/>
<line x1="11" y1="602.5" x2="1759" y2="602.5" stroke="#787b86" stroke-width="1" stroke-dasharray="5 6" stroke-dashoffset="1" opacity="1"/>
<line x1="11" y1="648.5" x2="1759" y2="648.5" stroke="#787b86" stroke-width="1" stroke-dasharray="5 6" stroke-dashoffset="1" opacity="0.6"/>
<line x1="11" y1="695.5" x2="1759" y2="695.5" stroke="#787b86" stroke-width="1" stroke-dasharray="5 6" stroke-dashoffset="1" opacity="1"/>
<polyline points="5.5,614.5 16.5,610.1 27.5,622.9 39.5,628.2 50.5,624.6 61.5,622.1 72.5,621.4 83.5,621.3 94.5,620.0 105.5,607.4 116.5,618.2 128.5,612.9 139.5,600.0 150.5,608.0 161.5,613.9 172.5,613.3 183.5,612.7 194.5,629.6 205.5,647.9 216.5,640.2 228.5,637.7 239.5,642.6 250.5,670.2 261.5,679.6 272.5,691.6 283.5,670.8 294.5,662.7 305.5,671.3 317.5,648.6 328.5,649.8 339.5,648.4 350.5,667.9 361.5,666.5 372.5,660.5 383.5,662.8 394.5,652.2 406.5,643.5 417.5,635.6 428.5,627.0 439.5,622.5 450.5,630.7 461.5,627.3 472.5,636.5 483.5,625.7 494.5,616.3 506.5,615.6 517.5,614.6 528.5,605.0 539.5,606.1 550.5,602.5 561.5,588.7 572.5,584.0 583.5,582.4 595.5,606.8 606.5,605.1 617.5,594.8 628.5,613.9 639.5,611.8 650.5,619.5 661.5,617.0 672.5,612.8 683.5,610.1 695.5,633.8 706.5,625.1 717.5,614.3 728.5,613.8 739.5,623.6 750.5,620.9 761.5,618.0 772.5,621.9 784.5,628.8 795.5,622.9 806.5,618.2 817.5,615.7 828.5,613.1 839.5,611.2 850.5,601.8 861.5,599.6 873.5,588.7 884.5,586.6 895.5,585.3 906.5,581.9 917.5,580.2 928.5,625.2 939.5,614.0 950.5,628.8 961.5,646.6 973.5,647.2 984.5,634.9 995.5,624.1 1006.5,630.6 1017.5,634.9 1028.5,630.3 1039.5,649.9 1050.5,650.8 1062.5,660.0 1073.5,650.8 1084.5,690.5 1095.5,700.1 1106.5,688.5 1117.5,691.6 1128.5,689.0 1139.5,681.6 1151.5,680.3 1162.5,662.3 1173.5,668.8 1184.5,679.3 1195.5,684.4 1206.5,678.9 1217.5,680.5 1228.5,681.8 1239.5,685.5 1251.5,700.9 1262.5,705.1 1273.5,678.3 1284.5,675.6 1295.5,678.9 1306.5,676.9 1317.5,678.2 1328.5,665.5 1340.5,680.1 1351.5,680.6 1362.5,657.1 1373.5,665.5 1384.5,663.2 1395.5,692.2 1406.5,685.0 1417.5,685.8 1428.5,681.4 1440.5,680.0 1451.5,674.3 1462.5,664.1 1473.5,674.3 1484.5,685.4 1495.5,687.8 1506.5,683.0 1517.5,667.1 1529.5,660.1 1540.5,669.2 1551.5,670.7 1562.5,666.4 1573.5,664.3 1584.5,685.8 1595.5,693.2 1606.5,686.1 1618.5,688.6 1629.5,678.9 1640.5,681.9 1651.5,669.3 1662.5,658.5 1673.5,659.7" fill="none" stroke="#7e57c2" stroke-width="1" stroke-linejoin="round"/>
</g>
<g clip-path="url(#co)">
<line x1="11" y1="777.5" x2="1759" y2="777.5" stroke="#787b86" stroke-width="1" stroke-dasharray="5 6" stroke-dashoffset="1"/>
<rect x="11" y="760" width="10" height="18" fill="#2962ff"/>
<rect x="22" y="774" width="10" height="4" fill="#2962ff"/>
<rect x="34" y="777" width="10" height="11" fill="#2962ff"/>
<rect x="45" y="777" width="10" height="12" fill="#2962ff"/>
<rect x="56" y="774" width="10" height="4" fill="#2962ff"/>
<rect x="67" y="768" width="10" height="10" fill="#2962ff"/>
<rect x="78" y="773" width="10" height="5" fill="#2962ff"/>
<rect x="89" y="775" width="10" height="3" fill="#2962ff"/>
<rect x="100" y="760" width="10" height="18" fill="#2962ff"/>
<rect x="111" y="767" width="10" height="11" fill="#2962ff"/>
<rect x="123" y="762" width="10" height="16" fill="#2962ff"/>
<rect x="134" y="759" width="10" height="19" fill="#2962ff"/>
<rect x="145" y="757" width="10" height="21" fill="#2962ff"/>
<rect x="156" y="768" width="10" height="10" fill="#2962ff"/>
<rect x="167" y="777" width="10" height="9" fill="#2962ff"/>
<rect x="178" y="777" width="10" height="3" fill="#2962ff"/>
<rect x="189" y="777" width="10" height="10" fill="#2962ff"/>
<rect x="200" y="777" width="10" height="25" fill="#2962ff"/>
<rect x="211" y="777" width="10" height="19" fill="#2962ff"/>
<rect x="223" y="777" width="10" height="5" fill="#2962ff"/>
<rect x="234" y="771" width="10" height="7" fill="#2962ff"/>
<rect x="245" y="777" width="10" height="29" fill="#2962ff"/>
<rect x="256" y="777" width="10" height="44" fill="#2962ff"/>
<rect x="267" y="777" width="10" height="59" fill="#2962ff"/>
<rect x="278" y="777" width="10" height="13" fill="#2962ff"/>
<rect x="289" y="769" width="10" height="9" fill="#2962ff"/>
<rect x="300" y="762" width="10" height="16" fill="#2962ff"/>
<rect x="312" y="754" width="10" height="24" fill="#2962ff"/>
<rect x="323" y="764" width="10" height="14" fill="#2962ff"/>
<rect x="334" y="750" width="10" height="28" fill="#2962ff"/>
<rect x="345" y="777" width="10" height="27" fill="#2962ff"/>
<rect x="356" y="777" width="10" height="24" fill="#2962ff"/>
<rect x="367" y="777" width="10" height="19" fill="#2962ff"/>
<rect x="378" y="772" width="10" height="6" fill="#2962ff"/>
<rect x="389" y="762" width="10" height="16" fill="#2962ff"/>
<rect x="401" y="758" width="10" height="20" fill="#2962ff"/>
<rect x="412" y="745" width="10" height="33" fill="#2962ff"/>
<rect x="423" y="745" width="10" height="33" fill="#2962ff"/>
<rect x="434" y="749" width="10" height="29" fill="#2962ff"/>
<rect x="445" y="767" width="10" height="11" fill="#2962ff"/>
<rect x="456" y="774" width="10" height="4" fill="#2962ff"/>
<rect x="467" y="777" width="10" height="12" fill="#2962ff"/>
<rect x="478" y="767" width="10" height="11" fill="#2962ff"/>
<rect x="489" y="758" width="10" height="20" fill="#2962ff"/>
<rect x="501" y="748" width="10" height="30" fill="#2962ff"/>
<rect x="512" y="761" width="10" height="17" fill="#2962ff"/>
<rect x="523" y="760" width="10" height="18" fill="#2962ff"/>
<rect x="534" y="762" width="10" height="16" fill="#2962ff"/>
<rect x="545" y="758" width="10" height="20" fill="#2962ff"/>
<rect x="556" y="747" width="10" height="31" fill="#2962ff"/>
<rect x="567" y="734" width="10" height="44" fill="#2962ff"/>
<rect x="578" y="736" width="10" height="42" fill="#2962ff"/>
<rect x="590" y="777" width="10" height="3" fill="#2962ff"/>
<rect x="601" y="777" width="10" height="11" fill="#2962ff"/>
<rect x="612" y="772" width="10" height="6" fill="#2962ff"/>
<rect x="623" y="771" width="10" height="7" fill="#2962ff"/>
<rect x="634" y="770" width="10" height="8" fill="#2962ff"/>
<rect x="645" y="777" width="10" height="19" fill="#2962ff"/>
<rect x="656" y="777" width="10" height="1" fill="#2962ff"/>
<rect x="667" y="774" width="10" height="4" fill="#2962ff"/>
<rect x="678" y="763" width="10" height="15" fill="#2962ff"/>
<rect x="690" y="777" width="10" height="10" fill="#2962ff"/>
<rect x="701" y="777" width="10" height="5" fill="#2962ff"/>
<rect x="712" y="769" width="10" height="9" fill="#2962ff"/>
<rect x="723" y="748" width="10" height="30" fill="#2962ff"/>
<rect x="734" y="768" width="10" height="10" fill="#2962ff"/>
<rect x="745" y="777" width="10" height="4" fill="#2962ff"/>
<rect x="756" y="777" width="10" height="1" fill="#2962ff"/>
<rect x="767" y="772" width="10" height="6" fill="#2962ff"/>
<rect x="779" y="777" width="10" height="5" fill="#2962ff"/>
<rect x="790" y="777" width="10" height="2" fill="#2962ff"/>
<rect x="801" y="770" width="10" height="8" fill="#2962ff"/>
<rect x="812" y="762" width="10" height="16" fill="#2962ff"/>
<rect x="823" y="765" width="10" height="13" fill="#2962ff"/>
<rect x="834" y="769" width="10" height="9" fill="#2962ff"/>
<rect x="845" y="760" width="10" height="18" fill="#2962ff"/>
<rect x="856" y="760" width="10" height="18" fill="#2962ff"/>
<rect x="868" y="745" width="10" height="33" fill="#2962ff"/>
<rect x="879" y="753" width="10" height="25" fill="#2962ff"/>
<rect x="890" y="754" width="10" height="24" fill="#2962ff"/>
<rect x="901" y="765" width="10" height="13" fill="#2962ff"/>
<rect x="912" y="766" width="10" height="12" fill="#2962ff"/>
<rect x="923" y="777" width="10" height="18" fill="#2962ff"/>
<rect x="934" y="777" width="10" height="10" fill="#2962ff"/>
<rect x="945" y="777" width="10" height="25" fill="#2962ff"/>
<rect x="956" y="777" width="10" height="15" fill="#2962ff"/>
<rect x="968" y="777" width="10" height="29" fill="#2962ff"/>
<rect x="979" y="777" width="10" height="4" fill="#2962ff"/>
<rect x="990" y="750" width="10" height="28" fill="#2962ff"/>
<rect x="1001" y="756" width="10" height="22" fill="#2962ff"/>
<rect x="1012" y="773" width="10" height="5" fill="#2962ff"/>
<rect x="1023" y="777" width="10" height="5" fill="#2962ff"/>
<rect x="1034" y="777" width="10" height="17" fill="#2962ff"/>
<rect x="1045" y="777" width="10" height="15" fill="#2962ff"/>
<rect x="1057" y="777" width="10" height="30" fill="#2962ff"/>
<rect x="1068" y="777" width="10" height="2" fill="#2962ff"/>
<rect x="1079" y="777" width="10" height="62" fill="#2962ff"/>
<rect x="1090" y="777" width="10" height="77" fill="#2962ff"/>
<rect x="1101" y="777" width="10" height="72" fill="#2962ff"/>
<rect x="1112" y="777" width="10" height="19" fill="#2962ff"/>
<rect x="1123" y="768" width="10" height="10" fill="#2962ff"/>
<rect x="1134" y="774" width="10" height="4" fill="#2962ff"/>
<rect x="1146" y="764" width="10" height="14" fill="#2962ff"/>
<rect x="1157" y="746" width="10" height="32" fill="#2962ff"/>
<rect x="1168" y="766" width="10" height="12" fill="#2962ff"/>
<rect x="1179" y="777" width="10" height="9" fill="#2962ff"/>
<rect x="1190" y="777" width="10" height="40" fill="#2962ff"/>
<rect x="1201" y="777" width="10" height="24" fill="#2962ff"/>
<rect x="1212" y="777" width="10" height="7" fill="#2962ff"/>
<rect x="1223" y="776" width="10" height="2" fill="#2962ff"/>
<rect x="1234" y="777" width="10" height="12" fill="#2962ff"/>
<rect x="1246" y="777" width="10" height="42" fill="#2962ff"/>
<rect x="1257" y="777" width="10" height="51" fill="#2962ff"/>
<rect x="1268" y="777" width="10" height="16" fill="#2962ff"/>
<rect x="1279" y="756" width="10" height="22" fill="#2962ff"/>
<rect x="1290" y="750" width="10" height="28" fill="#2962ff"/>
<rect x="1301" y="777" width="10" height="1" fill="#2962ff"/>
<rect x="1312" y="777" width="10" height="6" fill="#2962ff"/>
<rect x="1323" y="763" width="10" height="15" fill="#2962ff"/>
<rect x="1335" y="777" width="10" height="14" fill="#2962ff"/>
<rect x="1346" y="777" width="10" height="13" fill="#2962ff"/>
<rect x="1357" y="775" width="10" height="3" fill="#2962ff"/>
<rect x="1368" y="764" width="10" height="14" fill="#2962ff"/>
<rect x="1379" y="760" width="10" height="18" fill="#2962ff"/>
<rect x="1390" y="777" width="10" height="73" fill="#2962ff"/>
<rect x="1401" y="777" width="10" height="50" fill="#2962ff"/>
<rect x="1412" y="777" width="10" height="55" fill="#2962ff"/>
<rect x="1423" y="764" width="10" height="14" fill="#2962ff"/>
<rect x="1435" y="772" width="10" height="6" fill="#2962ff"/>
<rect x="1446" y="763" width="10" height="15" fill="#2962ff"/>
<rect x="1457" y="756" width="10" height="22" fill="#2962ff"/>
<rect x="1468" y="776" width="10" height="2" fill="#2962ff"/>
<rect x="1479" y="777" width="10" height="30" fill="#2962ff"/>
<rect x="1490" y="777" width="10" height="48" fill="#2962ff"/>
<rect x="1501" y="777" width="10" height="24" fill="#2962ff"/>
<rect x="1512" y="757" width="10" height="21" fill="#2962ff"/>
<rect x="1524" y="742" width="10" height="36" fill="#2962ff"/>
<rect x="1535" y="764" width="10" height="14" fill="#2962ff"/>
<rect x="1546" y="777" width="10" height="9" fill="#2962ff"/>
<rect x="1557" y="777" width="10" height="14" fill="#2962ff"/>
<rect x="1568" y="772" width="10" height="6" fill="#2962ff"/>
<rect x="1579" y="777" width="10" height="32" fill="#2962ff"/>
<rect x="1590" y="777" width="10" height="55" fill="#2962ff"/>
<rect x="1601" y="777" width="10" height="50" fill="#2962ff"/>
<rect x="1613" y="777" width="10" height="16" fill="#2962ff"/>
<rect x="1624" y="763" width="10" height="15" fill="#2962ff"/>
<rect x="1635" y="777" width="10" height="1" fill="#2962ff"/>
<rect x="1646" y="757" width="10" height="21" fill="#2962ff"/>
<rect x="1657" y="754" width="10" height="24" fill="#2962ff"/>
<rect x="1668" y="749" width="10" height="29" fill="#2962ff"/>
<line x1="11" y1="749.5" x2="1759" y2="749.5" stroke="#2962ff" stroke-width="1" stroke-dasharray="1 2" stroke-dashoffset="0"/>
</g>
<text x="1769" y="45.3" font-size="12" fill="#131722" textLength="19" lengthAdjust="spacingAndGlyphs">JPY</text>
<text x="1769" y="76.8" font-size="12" fill="#131722" textLength="42.0" lengthAdjust="spacingAndGlyphs">152.500</text>
<text x="1769" y="112.7" font-size="12" fill="#131722" textLength="42.0" lengthAdjust="spacingAndGlyphs">150.000</text>
<text x="1769" y="148.6" font-size="12" fill="#131722" textLength="42.0" lengthAdjust="spacingAndGlyphs">147.500</text>
<text x="1769" y="184.6" font-size="12" fill="#131722" textLength="42.0" lengthAdjust="spacingAndGlyphs">145.000</text>
<text x="1769" y="220.5" font-size="12" fill="#131722" textLength="42.0" lengthAdjust="spacingAndGlyphs">142.500</text>
<text x="1769" y="256.4" font-size="12" fill="#131722" textLength="42.0" lengthAdjust="spacingAndGlyphs">140.000</text>
<text x="1769" y="437.0" font-size="12" fill="#131722" textLength="42.0" lengthAdjust="spacingAndGlyphs">127.500</text>
<text x="1769" y="473.0" font-size="12" fill="#131722" textLength="42.0" lengthAdjust="spacingAndGlyphs">125.000</text>
<text x="1769" y="508.9" font-size="12" fill="#131722" textLength="42.0" lengthAdjust="spacingAndGlyphs">122.500</text>
<text x="1769" y="544.8" font-size="12" fill="#131722" textLength="42.0" lengthAdjust="spacingAndGlyphs">120.000</text>
<path d="M1759 278.0 H1816.7 Q1817.7 278.0 1817.7 279.0 V294.0 Q1817.7 295.0 1816.7 295.0 H1759 Z" fill="#673ab7"/>
<text x="1769" y="290.8" font-size="12" fill="#fff" textLength="42.0" lengthAdjust="spacingAndGlyphs" stroke="#fff" stroke-width="0.35">136.144</text>
<path d="M1759 295.0 H1816.7 Q1817.7 295.0 1817.7 296.0 V311.0 Q1817.7 312.0 1816.7 312.0 H1759 Z" fill="#000000"/>
<text x="1769" y="307.8" font-size="12" fill="#fff" textLength="42.0" lengthAdjust="spacingAndGlyphs" stroke="#fff" stroke-width="0.35">134.452</text>
<path d="M1759 312.0 H1816.7 Q1817.7 312.0 1817.7 313.0 V328.0 Q1817.7 329.0 1816.7 329.0 H1759 Z" fill="#0000ff"/>
<text x="1769" y="324.8" font-size="12" fill="#fff" textLength="42.0" lengthAdjust="spacingAndGlyphs" stroke="#fff" stroke-width="0.35">134.243</text>
<path d="M1759 329.0 H1816.7 Q1817.7 329.0 1817.7 330.0 V345.0 Q1817.7 346.0 1816.7 346.0 H1759 Z" fill="#ff7f00"/>
<text x="1769" y="341.8" font-size="12" fill="#fff" textLength="42.0" lengthAdjust="spacingAndGlyphs" stroke="#fff" stroke-width="0.35">134.106</text>
<path d="M1759 346.0 H1816.7 Q1817.7 346.0 1817.7 347.0 V362.0 Q1817.7 363.0 1816.7 363.0 H1759 Z" fill="#000000"/>
<text x="1769" y="358.8" font-size="12" fill="#fff" textLength="42.0" lengthAdjust="spacingAndGlyphs" stroke="#fff" stroke-width="0.35">131.574</text>
<path d="M1759 363.0 H1816.7 Q1817.7 363.0 1817.7 364.0 V379.0 Q1817.7 380.0 1816.7 380.0 H1759 Z" fill="#ff0000"/>
<text x="1769" y="375.8" font-size="12" fill="#fff" textLength="42.0" lengthAdjust="spacingAndGlyphs" stroke="#fff" stroke-width="0.35">130.912</text>
<path d="M1759 380.0 H1816.7 Q1817.7 380.0 1817.7 381.0 V396.0 Q1817.7 397.0 1816.7 397.0 H1759 Z" fill="#f23645"/>
<text x="1769" y="392.8" font-size="12" fill="#fff" textLength="42.0" lengthAdjust="spacingAndGlyphs" stroke="#fff" stroke-width="0.35">130.603</text>
<path d="M1759 397.0 H1816.7 Q1817.7 397.0 1817.7 398.0 V413.0 Q1817.7 414.0 1816.7 414.0 H1759 Z" fill="#000000"/>
<text x="1769" y="409.8" font-size="12" fill="#fff" textLength="42.0" lengthAdjust="spacingAndGlyphs" stroke="#fff" stroke-width="0.35">130.391</text>
<path d="M1759 414.0 H1816.7 Q1817.7 414.0 1817.7 415.0 V430.0 Q1817.7 431.0 1816.7 431.0 H1759 Z" fill="#000000"/>
<text x="1769" y="426.8" font-size="12" fill="#fff" textLength="42.0" lengthAdjust="spacingAndGlyphs" stroke="#fff" stroke-width="0.35">129.504</text>
<path d="M1759 441.0 H1816.7 Q1817.7 441.0 1817.7 442.0 V457.0 Q1817.7 458.0 1816.7 458.0 H1759 Z" fill="#000000"/>
<text x="1769" y="453.8" font-size="12" fill="#fff" textLength="42.0" lengthAdjust="spacingAndGlyphs" stroke="#fff" stroke-width="0.35">126.361</text>
<path d="M1759 514.0 H1816.7 Q1817.7 514.0 1817.7 515.0 V530.0 Q1817.7 531.0 1816.7 531.0 H1759 Z" fill="#000000"/>
<text x="1769" y="526.8" font-size="12" fill="#fff" textLength="42.0" lengthAdjust="spacingAndGlyphs" stroke="#fff" stroke-width="0.35">121.278</text>
<path d="M1758 380 H1708 Q1706 380 1706 382 V395 Q1706 397 1708 397 H1758 Z" fill="#f23645"/>
<text x="1712.2" y="392.8" font-size="12" fill="#fff" textLength="40" lengthAdjust="spacingAndGlyphs" stroke="#fff" stroke-width="0.35">USDJPY</text>
<g clip-path="url(#crs)">
<text x="1769" y="582.8" font-size="12" fill="#131722" textLength="29.0" lengthAdjust="spacingAndGlyphs">80.00</text>
<text x="1769" y="629.8" font-size="12" fill="#131722" textLength="29.0" lengthAdjust="spacingAndGlyphs">60.00</text>
<text x="1769" y="675.8" font-size="12" fill="#131722" textLength="29.0" lengthAdjust="spacingAndGlyphs">40.00</text>
<text x="1769" y="721.6" font-size="12" fill="#131722" textLength="29.0" lengthAdjust="spacingAndGlyphs">20.00</text>
</g>
<path d="M1759 651.2 H1803.7 Q1804.7 651.2 1804.7 652.2 V667.0 Q1804.7 668.0 1803.7 668.0 H1759 Z" fill="#7e57c2"/>
<text x="1769" y="663.9" font-size="12" fill="#fff" textLength="29.0" lengthAdjust="spacingAndGlyphs" stroke="#fff" stroke-width="0.35">45.27</text>
<text x="1769" y="748.8" font-size="12" fill="#131722" textLength="22.5" lengthAdjust="spacingAndGlyphs">2.00</text>
<text x="1769" y="781.4" font-size="12" fill="#131722" textLength="22.5" lengthAdjust="spacingAndGlyphs">0.00</text>
<text x="1769" y="814.0" font-size="12" fill="#131722" textLength="29.0" lengthAdjust="spacingAndGlyphs">−2.00</text>
<text x="1769" y="845.5" font-size="12" fill="#131722" textLength="29.0" lengthAdjust="spacingAndGlyphs">−4.00</text>
<path d="M1759 741.0 H1797.2 Q1798.2 741.0 1798.2 742.0 V756.8 Q1798.2 757.8 1797.2 757.8 H1759 Z" fill="#2962ff"/>
<text x="1769" y="753.7" font-size="12" fill="#fff" textLength="22.5" lengthAdjust="spacingAndGlyphs" stroke="#fff" stroke-width="0.35">1.71</text>
<text x="18.1" y="45.6" font-size="12" fill="#131722" textLength="107.4" lengthAdjust="spacingAndGlyphs">EMA 20/50/100/200</text>
<text x="133.6" y="45.6" font-size="12" fill="#ff0000" textLength="40.5" lengthAdjust="spacingAndGlyphs">130.912</text>
<text x="182.8" y="45.6" font-size="12" fill="#ff7f00" textLength="40.9" lengthAdjust="spacingAndGlyphs">134.106</text>
<text x="231.7" y="45.6" font-size="12" fill="#7e57c2" textLength="41.1" lengthAdjust="spacingAndGlyphs">136.144</text>
<text x="281.5" y="45.6" font-size="12" fill="#0000ff" textLength="41.0" lengthAdjust="spacingAndGlyphs">134.243</text>
<text x="18.1" y="62.7" font-size="12" fill="#131722" textLength="199" lengthAdjust="spacingAndGlyphs">Pivots (Traditional, Daily, 1, Right, 1)</text>
<text x="18.1" y="581" font-size="12" fill="#131722" textLength="140.1" lengthAdjust="spacingAndGlyphs">RSI (14, close, SMA, 14, 2)</text>
<text x="166.3" y="581" font-size="12" fill="#7e57c2" textLength="28.6" lengthAdjust="spacingAndGlyphs">45.27</text>
<text x="18.1" y="739" font-size="12" fill="#131722" textLength="75.7" lengthAdjust="spacingAndGlyphs">ROC (3, close)</text>
<text x="102.1" y="739" font-size="12" fill="#2962ff" textLength="21.6" lengthAdjust="spacingAndGlyphs">1.71</text>
<text x="39" y="885.3" font-size="12" fill="#131722" text-anchor="middle">Jul</text>
<text x="161" y="885.3" font-size="12" fill="#131722" text-anchor="middle">18</text>
<text x="272" y="885.3" font-size="12" fill="#131722" text-anchor="middle">Aug</text>
<text x="383" y="885.3" font-size="12" fill="#131722" text-anchor="middle">15</text>
<text x="528" y="885.3" font-size="12" fill="#131722" text-anchor="middle">Sep</text>
<text x="661" y="885.3" font-size="12" fill="#131722" text-anchor="middle">19</text>
<text x="772" y="885.3" font-size="12" fill="#131722" text-anchor="middle">Oct</text>
<text x="884" y="885.3" font-size="12" fill="#131722" text-anchor="middle">17</text>
<text x="1006" y="885.3" font-size="12" fill="#131722" text-anchor="middle">Nov</text>
<text x="1106" y="885.3" font-size="12" fill="#131722" text-anchor="middle">14</text>
<text x="1251" y="885.3" font-size="12" fill="#131722" text-anchor="middle">Dec</text>
<text x="1384" y="885.3" font-size="12" fill="#131722" text-anchor="middle">19</text>
<text x="1495" y="885.3" font-size="12" fill="#131722" text-anchor="middle" stroke="#131722" stroke-width="0.45">2023</text>
<text x="1606" y="885.3" font-size="12" fill="#131722" text-anchor="middle">16</text>
<text x="1740" y="885.3" font-size="12" fill="#131722" text-anchor="middle">Feb</text>
<path d="M10 907.2 H17.5 V916.8 H13.9 V911 H10 Z" fill="#131722"/>
<circle cx="21.3" cy="909.2" r="1.9" fill="#131722"/>
<path d="M24.2 907.2 H29.4 L25.3 916.8 H21.3 Z" fill="#131722"/>
<text x="33.1" y="916.8" font-size="12.5" fill="#131722" textLength="70.1" lengthAdjust="spacingAndGlyphs">TradingView</text>
</svg>
</div></body></html>
